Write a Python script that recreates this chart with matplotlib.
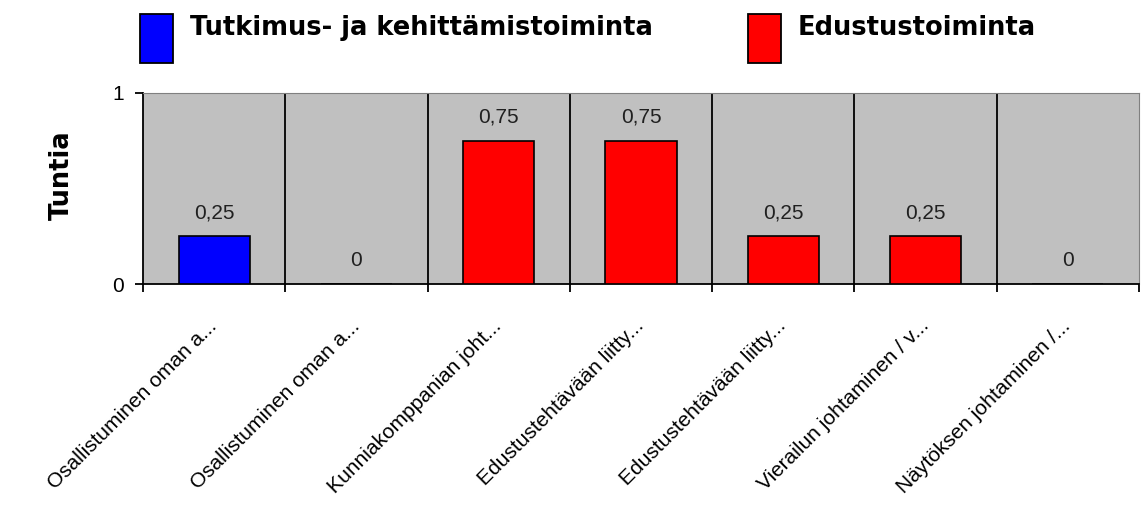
import numpy as np
import matplotlib.pyplot as plt
from matplotlib.patches import Rectangle

# data
categories = ["Osallistuminen oman a...", "Osallistuminen oman a...",
              "Kunniakomppanian joht...", "Edustustehtävään liitty...",
              "Edustustehtävään liitty...", "Vierailun johtaminen / v...",
              "Näytöksen johtaminen /..."]
values = [0.25, 0, 0.75, 0.75, 0.25, 0.25, 0]
value_labels = ["0,25", "0", "0,75", "0,75", "0,25", "0,25", "0"]
series_names = ["Tutkimus- ja kehittämistoiminta", "Edustustoiminta"]
series_of_bar = [0, 1, 1, 1, 1, 1, 1]
series_colors = ["#0000FF", "#FF0000"]

plt.rcParams['font.family'] = ['Liberation Sans', 'DejaVu Sans']

W, H = 1142, 508
fig = plt.figure(figsize=(W / 100, H / 100), dpi=100)
ax = fig.add_axes([143 / W, 1 - 284 / H, (1139 - 143) / W, (284 - 93) / H])
ax.set_facecolor("#C0C0C0")

x = np.arange(len(categories))
colors = [series_colors[s] for s in series_of_bar]
ax.bar(x, values, width=0.5, color=colors, edgecolor="black", linewidth=1.2, zorder=3)

for xi, v, lab in zip(x, values, value_labels):
    ax.annotate(lab, (xi, v), xytext=(0, 10), textcoords="offset points",
                ha="center", va="bottom", fontsize=15, color="#202020")

# category separators
for b in np.arange(0.5, len(categories) - 0.5, 1):
    ax.axvline(b, color="black", linewidth=1.3, zorder=2)

ax.set_xlim(-0.5, len(categories) - 0.5)
ax.set_ylim(0, 1)
ax.set_yticks([0, 1])
ax.set_yticklabels(["0", "1"], fontsize=15)
ax.set_xticks(np.arange(-0.5, len(categories), 1))
ax.set_xticklabels([])
ax.set_xticks(x, minor=True)
ax.set_xticklabels(categories, minor=True, rotation=45, ha="right", va="center",
                   rotation_mode="anchor", fontsize=15)
ax.tick_params(axis="x", which="minor", length=0, pad=28)
ax.tick_params(axis="x", which="major", length=6, width=1.3, direction="out")
ax.tick_params(axis="y", length=6, width=1.3, direction="out", pad=8)

ax.spines["left"].set_linewidth(1.3)
ax.spines["bottom"].set_linewidth(1.3)
ax.spines["top"].set_color("#808080")
ax.spines["right"].set_color("#808080")

ax.set_ylabel("Tuntia", fontsize=18.5, fontweight="bold", family="DejaVu Sans")
ax.yaxis.set_label_coords(-68 / (1139 - 143), (284 - 175) / (284 - 93))

# legend drawn by hand so the tall swatches hang below the text like the original
legend_x = [140, 748]
for i, name in enumerate(series_names):
    fig.add_artist(Rectangle((legend_x[i] / W, 1 - 63 / H), 33 / W, 49 / H,
                             transform=fig.transFigure, facecolor=series_colors[i],
                             edgecolor="black", linewidth=1.3))
    fig.text((legend_x[i] + 50) / W, 1 - 35 / H, name, fontsize=18.5,
             fontweight="bold", family="DejaVu Sans", va="baseline", ha="left")

fig.savefig("out.png", dpi=100)
